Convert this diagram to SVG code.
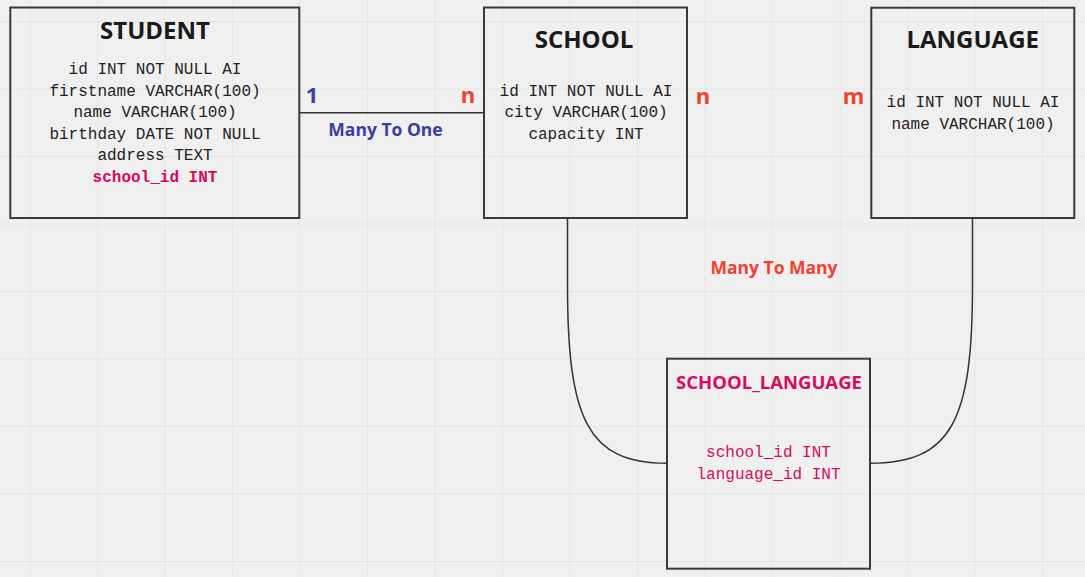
<svg xmlns="http://www.w3.org/2000/svg" width="1085" height="577" viewBox="0 0 1085 577">
<defs>
<pattern id="grid" x="29.6" y="21" width="67.5" height="67.5" patternUnits="userSpaceOnUse">
<path d="M0,0 H67.5 M0,0 V67.5" fill="none" stroke="#e2e2e2" stroke-width="1.3"/>
</pattern>
</defs>
<style>
.box{fill:none;stroke:#3a3a3a;stroke-width:2}
.title{font-family:"Open Sans","Noto Sans",sans-serif;font-weight:bold;font-size:24px;fill:#1a1a1a;text-anchor:middle}
.title.small{font-size:18.5px}
.field{font-family:"Liberation Mono","DejaVu Sans Mono",monospace;font-size:16px;fill:#222;text-anchor:middle}
.fk{fill:#d90a5c}
.lbl{font-family:"Open Sans","Noto Sans",sans-serif;font-weight:bold;text-anchor:middle}
.big{font-size:22px}
.mid{font-size:17.5px}
.blue{fill:#3b3fa0}
.red{fill:#f2402c}
.conn{fill:none;stroke:#333;stroke-width:1.5}
</style>
<rect width="1085" height="577" fill="#f0f0f0"/>
<rect width="1085" height="577" fill="url(#grid)"/>

<g id="connectors">
<line class="conn" x1="300" y1="112.7" x2="484" y2="112.7" stroke-width="2"/>
<path class="conn" d="M567.5,218 L567.5,285 C567.5,420 588,463.3 667,463.3"/>
<path class="conn" d="M972.5,218 L972.5,285 C972.5,420 952,463.3 870,463.3"/>
<text class="lbl big blue" x="312" y="102.7">1</text>
<text class="lbl big red" x="468" y="102.7">n</text>
<text class="lbl mid blue" x="385.5" y="135.5">Many To One</text>
<text class="lbl big red" x="703" y="103.5">n</text>
<text class="lbl big red" x="853.5" y="103.5">m</text>
<text class="lbl mid red" x="774" y="274.3">Many To Many</text>
</g>

<g id="student">
<rect class="box" x="10.3" y="7.5" width="289" height="210.5"/>
<text class="title" x="155" y="39">STUDENT</text>
<text class="field" x="155" y="74">id INT NOT NULL AI</text>
<text class="field" x="155" y="95.6">firstname VARCHAR(100)</text>
<text class="field" x="155" y="117.2">name VARCHAR(100)</text>
<text class="field" x="155" y="138.8">birthday DATE NOT NULL</text>
<text class="field" x="155" y="160.4">address TEXT</text>
<text class="field fk" x="155" y="182" font-weight="bold">school_id INT</text>
</g>

<g id="school">
<rect class="box" x="484" y="7.5" width="203" height="210.5"/>
<text class="title" x="584" y="47.7">SCHOOL</text>
<text class="field" x="586" y="95.7">id INT NOT NULL AI</text>
<text class="field" x="586" y="117.3">city VARCHAR(100)</text>
<text class="field" x="586" y="138.9">capacity INT</text>
</g>

<g id="language">
<rect class="box" x="871.3" y="7.7" width="203" height="210.3"/>
<text class="title" x="972.7" y="47.7">LANGUAGE</text>
<text class="field" x="973" y="107.3">id INT NOT NULL AI</text>
<text class="field" x="973" y="128.9">name VARCHAR(100)</text>
</g>

<g id="school_language">
<rect class="box" x="667" y="358.7" width="203" height="210"/>
<text class="title small fk" x="769" y="389.3">SCHOOL_LANGUAGE</text>
<text class="field fk" x="768.5" y="457.3">school_id INT</text>
<text class="field fk" x="768.5" y="479.3">language_id INT</text>
</g>
</svg>
